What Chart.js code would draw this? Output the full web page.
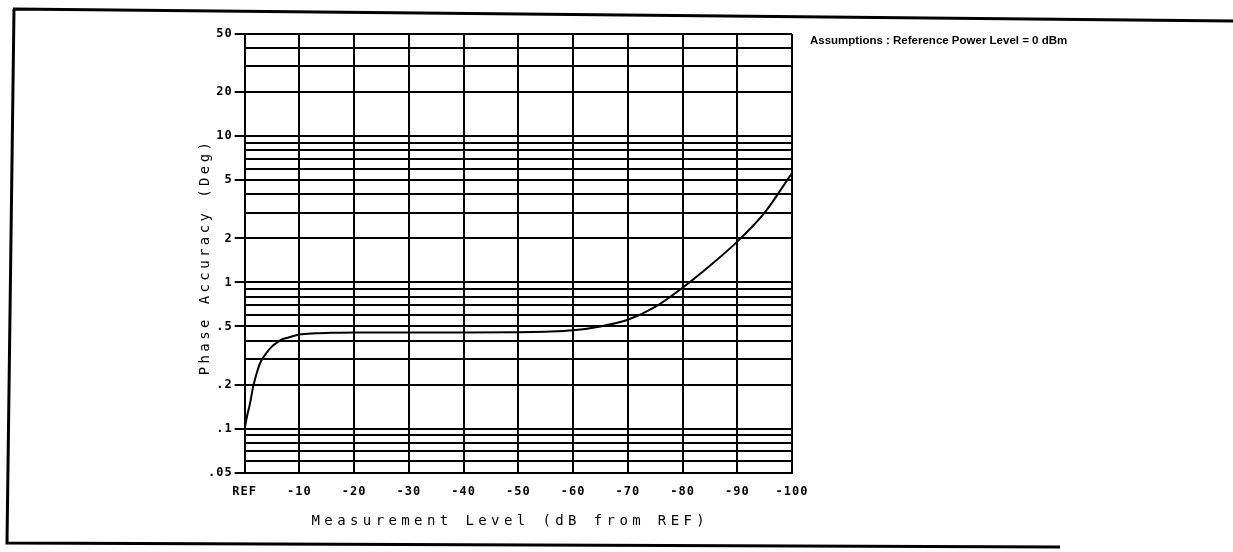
<!DOCTYPE html>
<html>
<head>
<meta charset="utf-8">
<title>Phase Accuracy</title>
<script src="https://cdn.jsdelivr.net/npm/chart.js@4.4.1/dist/chart.umd.min.js"></script>
<style>
    body { margin: 0; background: #fff; }
    #wrap { width: 1233px; height: 552px; }
</style>
</head>
<body>
<div id="wrap"><canvas id="myChart" width="1233" height="552"></canvas></div>
<script>
// curve (dB below REF -> degrees)
let levels = [0, -0.5, -1, -1.5, -2, -2.5, -3, -4, -5, -6, -7, -8, -10, -13, -16, -20, -30, -40, -50, -55, -60, -65, -70, -75, -80, -85, -90, -95, -100];
let phaseAcc = [0.1, 0.125, 0.15, 0.19, 0.225, 0.26, 0.29, 0.33, 0.365, 0.39, 0.41, 0.42, 0.44, 0.448, 0.452, 0.455, 0.455, 0.455, 0.456, 0.46, 0.47, 0.5, 0.555, 0.68, 0.92, 1.3, 1.9, 3.0, 5.6];

// horizontal grid lines and which of them carry a label
let yGridValues = [0.05, 0.06, 0.07, 0.08, 0.09, 0.1, 0.2, 0.3, 0.4, 0.5, 0.6, 0.7, 0.8, 0.9, 1, 2, 3, 4, 5, 6, 7, 8, 9, 10, 20, 30, 40, 50];
let yTickValues = [0.05, 0.1, 0.2, 0.5, 1, 2, 5, 10, 20, 50];
let yTickLabels = ['.05', '.1', '.2', '.5', '1', '2', '5', '10', '20', '50'];
let xTickValues = [0, -10, -20, -30, -40, -50, -60, -70, -80, -90, -100];
let xTickLabels = ['REF', '-10', '-20', '-30', '-40', '-50', '-60', '-70', '-80', '-90', '-100'];

let xTitle = 'Measurement Level (dB from REF)';
let yTitle = 'Phase Accuracy (Deg)';
let note = 'Assumptions : Reference Power Level = 0 dBm';

let points = levels.map(function (v, i) { return { x: v, y: phaseAcc[i] }; });

// page frame, titles and the note
let paperPlugin = {
    id: 'paper',
    beforeDraw: function (chart) {
        let ctx = chart.ctx;
        ctx.save();
        ctx.fillStyle = '#fff';
        ctx.fillRect(0, 0, chart.width, chart.height);
        ctx.strokeStyle = '#000';
        ctx.lineWidth = 3;
        ctx.beginPath();
        ctx.moveTo(13, 9);
        ctx.lineTo(1233, 21);
        ctx.moveTo(14, 9);
        ctx.lineTo(7, 543);
        ctx.lineTo(1060, 547);
        ctx.stroke();
        ctx.restore();
        ctx.letterSpacing = '1px';
    },
    afterDraw: function (chart) {
        let ctx = chart.ctx;
        let area = chart.chartArea;
        ctx.save();
        ctx.fillStyle = '#000';
        ctx.letterSpacing = '4.4px';
        ctx.font = '14px "DejaVu Sans Mono"';
        ctx.textAlign = 'center';
        ctx.textBaseline = 'middle';
        ctx.fillText(xTitle, (area.left + area.right) / 2 - 8, 521);
        ctx.translate(205, 257);
        ctx.rotate(-Math.PI / 2);
        ctx.letterSpacing = '3.4px';
        ctx.fillText(yTitle, 0, 0);
        ctx.restore();

        ctx.save();
        ctx.letterSpacing = '0px';
        ctx.fillStyle = '#000';
        ctx.font = 'bold 11.5px "Liberation Sans"';
        ctx.textAlign = 'left';
        ctx.textBaseline = 'middle';
        ctx.fillText(note, 810, 41);
        ctx.restore();
    }
};

let ctx = document.getElementById('myChart').getContext('2d');
let myChart = new Chart(ctx, {
    type: 'line',
    data: {
        datasets: [{
            data: points,
            borderColor: '#000',
            borderWidth: 2,
            pointRadius: 0,
            fill: false,
            cubicInterpolationMode: 'monotone'
        }]
    },
    options: {
        responsive: false,
        animation: false,
        layout: {
            padding: { left: 209, top: 34, right: 441, bottom: 41 }
        },
        plugins: {
            legend: { display: false },
            tooltip: { enabled: false }
        },
        scales: {
            x: {
                type: 'linear',
                min: -100,
                max: 0,
                reverse: true,
                afterBuildTicks: function (axis) {
                    axis.ticks = xTickValues.map(function (v) { return { value: v }; });
                },
                grid: { color: '#000', lineWidth: 2, drawTicks: false },
                border: { color: '#000', width: 2 },
                ticks: {
                    autoSkip: false,
                    maxRotation: 0,
                    padding: 12,
                    color: '#000',
                    font: { family: 'DejaVu Sans Mono', size: 12, weight: 'bold' },
                    callback: function (value) {
                        let i = xTickValues.indexOf(value);
                        return i < 0 ? '' : xTickLabels[i];
                    }
                }
            },
            y: {
                type: 'logarithmic',
                min: 0.05,
                max: 50,
                afterBuildTicks: function (axis) {
                    axis.ticks = yGridValues.map(function (v) { return { value: v }; });
                },
                grid: {
                    color: '#000',
                    lineWidth: 2,
                    tickLength: 10,
                    tickColor: function (c) {
                        return c.tick && yTickValues.indexOf(c.tick.value) >= 0 ? '#000' : 'rgba(0,0,0,0)';
                    }
                },
                border: { color: '#000', width: 2 },
                ticks: {
                    autoSkip: false,
                    padding: 2,
                    color: '#000',
                    font: { family: 'DejaVu Sans Mono', size: 12, weight: 'bold' },
                    callback: function (value) {
                        let i = yTickValues.indexOf(value);
                        return i < 0 ? '' : yTickLabels[i];
                    }
                }
            }
        }
    },
    plugins: [paperPlugin]
});
</script>
</body>
</html>
